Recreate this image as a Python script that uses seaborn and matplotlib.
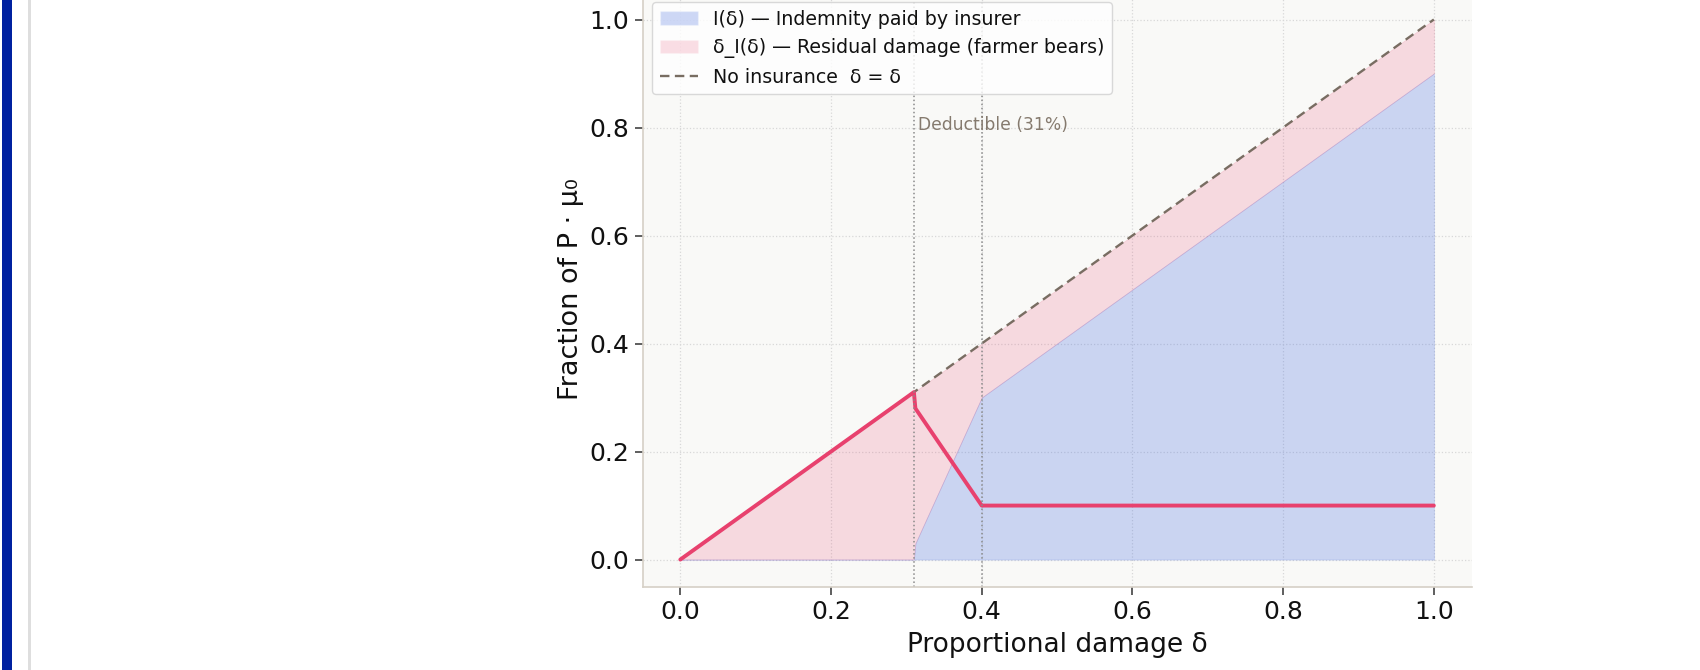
import numpy as np
import pandas as pd
import seaborn as sns
import matplotlib.pyplot as plt
from matplotlib.patches import Rectangle, Patch
from matplotlib.lines import Line2D

# values
delta = [0.0, 0.31, 0.312, 0.40, 1.0]
indemnity = [0.0, 0.0, 0.03, 0.30, 0.90]
residual = [0.0, 0.31, 0.28, 0.10, 0.10]
no_ins = [0.0, 0.31, 0.312, 0.40, 1.0]
deductible = 0.31
cap = 0.40
xticks = [0.0, 0.2, 0.4, 0.6, 0.8, 1.0]
yticks = [0.0, 0.2, 0.4, 0.6, 0.8, 1.0]

sns.set_style("ticks")
plt.rcParams['font.family'] = ['DejaVu Sans']
plt.rcParams['text.color'] = '#111111'
plt.rcParams['axes.labelcolor'] = '#111111'
plt.rcParams['xtick.labelcolor'] = '#111111'
plt.rcParams['ytick.labelcolor'] = '#111111'

df = pd.DataFrame({'delta': delta, 'indemnity': indemnity,
                   'residual': residual, 'no_ins': no_ins})

fig = plt.figure(figsize=(17, 6.7), dpi=100)
fig.patch.set_facecolor('white')
# page decorations at the left edge
fig.add_artist(Rectangle((2 / 1700, 0), 9.5 / 1700, 1, transform=fig.transFigure,
                         color='#0021a0', lw=0))
fig.add_artist(Rectangle((28 / 1700, 0), 2.5 / 1700, 1, transform=fig.transFigure,
                         color='#dedede', lw=0))

ax = fig.add_axes([0.378, 0.1245, 0.4876, 0.8867])
ax.set_facecolor('#f9f9f7')

ax.fill_between(df['delta'], 0, df['indemnity'], color='royalblue', alpha=0.25, lw=0.5)
ax.fill_between(df['delta'], df['indemnity'], df['no_ins'], color='#e8416e', alpha=0.17, lw=0.5)
sns.lineplot(data=df, x='delta', y='no_ins', ax=ax, sort=False, color='#786d62',
             lw=1.7, linestyle=(0, (4, 2.3)))
sns.lineplot(data=df, x='delta', y='residual', ax=ax, sort=False, color='#e8416e', lw=2.8)

ax.axvline(deductible, color='#8a8a8a', ls=':', lw=1.1)
ax.axvline(cap, color='#8a8a8a', ls=':', lw=1.1)
ax.text(deductible + 0.005, 0.805, 'Deductible (31%)', color='#857a6e',
        fontsize=12.3, va='center')

ax.set_xlim(-0.05, 1.05)
ax.set_ylim(-0.05, 1.05)
ax.set_xticks(xticks)
ax.set_yticks(yticks)
ax.tick_params(labelsize=18, length=6, width=1.1, color='#333333')
ax.grid(True, ls=':', color='#d8d8d8', lw=0.9)
ax.set_axisbelow(True)
ax.set_xlabel('Proportional damage δ', fontsize=19, labelpad=6)
ax.set_ylabel('Fraction of P · μ₀', fontsize=19.5)
sns.despine(ax=ax)
for s in ['left', 'bottom']:
    ax.spines[s].set_color('#d6d0c6')
    ax.spines[s].set_linewidth(1.2)

handles = [Patch(facecolor='royalblue', alpha=0.25, label='I(δ) — Indemnity paid by insurer'),
           Patch(facecolor='#e8416e', alpha=0.17, label='δ_I(δ) — Residual damage (farmer bears)'),
           Line2D([], [], color='#786d62', lw=1.7, ls=(0, (4, 2.3)), label='No insurance  δ = δ')]
leg = ax.legend(handles=handles, loc='upper left', fontsize=13.7, frameon=True)
leg.get_frame().set_edgecolor('#d0d0d0')

fig.savefig('out.png', dpi=100)
